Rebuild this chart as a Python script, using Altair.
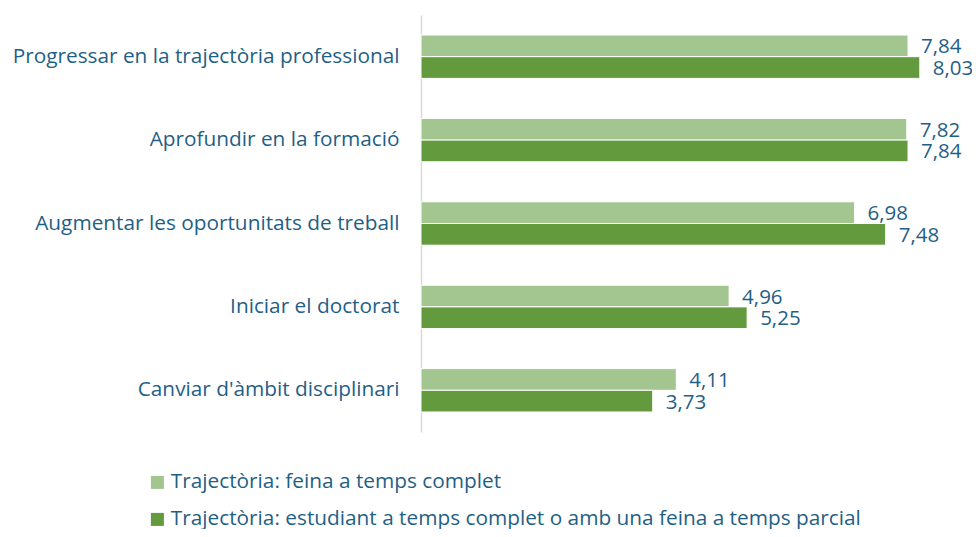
import altair as alt
import pandas as pd

categories = [
    "Progressar en la trajectòria professional",
    "Aprofundir en la formació",
    "Augmentar les oportunitats de treball",
    "Iniciar el doctorat",
    "Canviar d'àmbit disciplinari",
]
series = [
    "Trajectòria: feina a temps complet",
    "Trajectòria: estudiant a temps complet o amb una feina a temps parcial",
]
values_full = [7.84, 7.82, 6.98, 4.96, 4.11]
values_student = [8.03, 7.84, 7.48, 5.25, 3.73]
colors = ["#a3c58f", "#629a3d"]
text_color = "#1f5f86"
font = "Open Sans"
fs = 20.8
fs_val = 20.5

rows = []
for i, c in enumerate(categories):
    for s, vals in zip(series, [values_full, values_student]):
        v = vals[i]
        rows.append({"cat": c, "series": s, "value": v,
                     "label": f"{v:.2f}".replace(".", ",")})
df = pd.DataFrame(rows)

yscale = alt.Scale(paddingInner=0.48, paddingOuter=0.24)
y = alt.Y("cat:N", sort=categories, title=None, scale=yscale,
          axis=alt.Axis(labelFont=font, labelFontSize=fs, labelColor=text_color,
                        labelPadding=22, labelLimit=500, ticks=False,
                        domainColor="#d9d9d9", domainWidth=1.5))
yoff = alt.YOffset("series:N", sort=series, scale=alt.Scale(paddingInner=0))
x = alt.X("value:Q", title=None, scale=alt.Scale(domain=[0, 8.87], nice=False),
          axis=None)

bars = alt.Chart(df).mark_bar(stroke="white", strokeWidth=1).encode(
    y=y, yOffset=yoff, x=x,
    color=alt.Color("series:N", sort=series,
                    scale=alt.Scale(domain=series, range=colors),
                    legend=alt.Legend(title=None, orient="none", legendX=-274, legendY=457,
                                      direction="vertical", symbolType="square",
                                      symbolSize=169, symbolStrokeWidth=0,
                                      labelFont=font, labelFontSize=fs,
                                      labelColor=text_color, labelLimit=900,
                                      rowPadding=15, labelOffset=3)),
)
labels = alt.Chart(df).mark_text(align="left", dx=13, dy=1.5, font=font, fontSize=fs_val,
                                 color=text_color).encode(
    y=alt.Y("cat:N", sort=categories, scale=yscale),
    yOffset=yoff, x=x, text="label:N")

chart = alt.layer(bars, labels).properties(
    width=551, height=417,
    autosize=alt.AutoSizeParams(type="none"),
    padding={"left": 413, "top": 7, "right": 0, "bottom": 97},
).configure_view(stroke=None)

chart.save("out.html", embed_options={"renderer": "svg", "actions": False})
